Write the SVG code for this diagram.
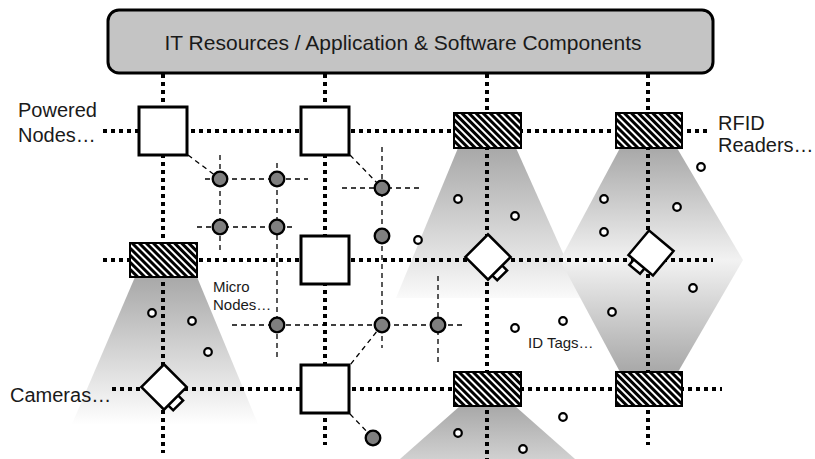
<svg xmlns="http://www.w3.org/2000/svg" width="815" height="459" viewBox="0 0 815 459">
<style>
.dot{fill:none;stroke:#000;stroke-width:4;stroke-dasharray:4 4}
.dash{fill:none;stroke:#000;stroke-width:1.3;stroke-dasharray:5 4}
.sq{fill:#fff;stroke:#000;stroke-width:3}
.rd{fill:url(#hatch);stroke:#000;stroke-width:2}
.cam{fill:#fff;stroke:#000;stroke-width:2.5}
.mn{fill:#7f7f7f;stroke:#000;stroke-width:2.3}
.tag{fill:#fff;stroke:#000;stroke-width:2.2}
.lbl{font-family:"Liberation Sans",Arial,sans-serif;fill:#1a1a1a}
</style>
<defs>
<pattern id="hatch" patternUnits="userSpaceOnUse" width="5" height="5" patternTransform="rotate(45)">
<rect width="5" height="5" fill="#000"/>
<rect width="5" height="2" fill="#fff"/>
</pattern>
<linearGradient id="gA" gradientUnits="userSpaceOnUse" x1="0" y1="148" x2="0" y2="298"><stop offset="0" stop-color="#a8a8a8"/><stop offset="1" stop-color="#fafafa"/></linearGradient>
<linearGradient id="gB" gradientUnits="userSpaceOnUse" x1="0" y1="148" x2="0" y2="260"><stop offset="0" stop-color="#a8a8a8"/><stop offset="1" stop-color="#f2f2f2"/></linearGradient>
<linearGradient id="gC" gradientUnits="userSpaceOnUse" x1="0" y1="372" x2="0" y2="260"><stop offset="0" stop-color="#a8a8a8"/><stop offset="1" stop-color="#f2f2f2"/></linearGradient>
<linearGradient id="gD" gradientUnits="userSpaceOnUse" x1="0" y1="277" x2="0" y2="425"><stop offset="0" stop-color="#a8a8a8"/><stop offset="1" stop-color="#ffffff"/></linearGradient>
<linearGradient id="gE" gradientUnits="userSpaceOnUse" x1="0" y1="406" x2="0" y2="520"><stop offset="0" stop-color="#a8a8a8"/><stop offset="1" stop-color="#ffffff"/></linearGradient>
</defs>
<rect width="815" height="459" fill="#fff"/>

<g id="beams">
<polygon points="458,148 516,148 583,298 396,298" fill="url(#gA)"/>
<polygon points="620,148 677,148 743,260 560,260" fill="url(#gB)"/>
<polygon points="620,372 678,372 743,260 560,260" fill="url(#gC)"/>
<polygon points="135,277 197,277 258,424 72,424" fill="url(#gD)"/>
<polygon points="460,406 515,406 575,459 400,459" fill="url(#gE)"/>
</g>

<g id="connectors">
<line class="dot" x1="163" y1="74" x2="163" y2="453"/>
<line class="dot" x1="325" y1="74" x2="325" y2="445"/>
<line class="dot" x1="487" y1="74" x2="487" y2="459"/>
<line class="dot" x1="648" y1="74" x2="648" y2="445"/>
<line class="dot" x1="103" y1="131" x2="710" y2="131"/>
<line class="dot" x1="103" y1="260" x2="713" y2="260"/>
<line class="dot" x1="112" y1="389" x2="722" y2="389"/>

<line class="dash" x1="188" y1="155" x2="220" y2="179"/>
<line class="dash" x1="205" y1="179" x2="308" y2="179"/>
<line class="dash" x1="197" y1="227" x2="292" y2="227"/>
<line class="dash" x1="220" y1="155" x2="220" y2="252"/>
<line class="dash" x1="277" y1="163" x2="277" y2="357"/>
<line class="dash" x1="350" y1="155" x2="382" y2="188"/>
<line class="dash" x1="342" y1="188" x2="423" y2="188"/>
<line class="dash" x1="382" y1="147" x2="382" y2="348"/>
<line class="dash" x1="232" y1="325" x2="463" y2="325"/>
<line class="dash" x1="438" y1="276" x2="438" y2="364"/>
<line class="dash" x1="382" y1="325" x2="350" y2="365"/>
<line class="dash" x1="350" y1="414" x2="373" y2="438"/>
</g>

<g id="micro-nodes">
<circle class="mn" cx="220" cy="179" r="7.3"/>
<circle class="mn" cx="277" cy="179" r="7.3"/>
<circle class="mn" cx="220" cy="227" r="7.3"/>
<circle class="mn" cx="277" cy="227" r="7.3"/>
<circle class="mn" cx="382" cy="188" r="7.3"/>
<circle class="mn" cx="382" cy="236" r="7.3"/>
<circle class="mn" cx="277" cy="325" r="7.3"/>
<circle class="mn" cx="382" cy="325" r="7.3"/>
<circle class="mn" cx="438" cy="325" r="7.3"/>
<circle class="mn" cx="373" cy="438" r="7.3"/>
</g>

<g id="id-tags">
<circle class="tag" cx="458" cy="199" r="3.8"/>
<circle class="tag" cx="515" cy="216" r="3.8"/>
<circle class="tag" cx="418" cy="240" r="3.8"/>
<circle class="tag" cx="701" cy="167" r="3.8"/>
<circle class="tag" cx="604" cy="199" r="3.8"/>
<circle class="tag" cx="677" cy="207" r="3.8"/>
<circle class="tag" cx="604" cy="232" r="3.8"/>
<circle class="tag" cx="693" cy="288" r="3.8"/>
<circle class="tag" cx="612" cy="312" r="3.8"/>
<circle class="tag" cx="515" cy="328" r="3.8"/>
<circle class="tag" cx="563" cy="321" r="3.8"/>
<circle class="tag" cx="563" cy="417" r="3.8"/>
<circle class="tag" cx="458" cy="433" r="3.8"/>
<circle class="tag" cx="523" cy="449" r="3.8"/>
<circle class="tag" cx="152" cy="313" r="3.8"/>
<circle class="tag" cx="192" cy="321" r="3.8"/>
<circle class="tag" cx="208" cy="352" r="3.8"/>
</g>

<g id="it-resources">
<rect x="108" y="10" width="605" height="63" rx="11" fill="#c4c4c4" stroke="#000" stroke-width="3"/>
<text class="lbl" x="403" y="50" font-size="21" text-anchor="middle">IT Resources / Application &amp; Software Components</text>
</g>

<g id="powered-node-1"><rect class="sq" x="139" y="107" width="48" height="48"/></g>
<g id="powered-node-2"><rect class="sq" x="301" y="107" width="48" height="48"/></g>
<g id="powered-node-3"><rect class="sq" x="301" y="236" width="48" height="48"/></g>
<g id="powered-node-4"><rect class="sq" x="301" y="365" width="48" height="48"/></g>

<g id="rfid-reader-1"><rect class="rd" x="454" y="113" width="67" height="35"/></g>
<g id="rfid-reader-2"><rect class="rd" x="616" y="113" width="66" height="35"/></g>
<g id="rfid-reader-3"><rect class="rd" x="130" y="243" width="67" height="34"/></g>
<g id="rfid-reader-4"><rect class="rd" x="454" y="372" width="67" height="34"/></g>
<g id="rfid-reader-5"><rect class="rd" x="616" y="372" width="66" height="34"/></g>

<g id="camera-1" transform="translate(164,387) rotate(45)">
<rect class="cam" x="15" y="-4" width="8" height="14"/>
<rect class="cam" x="-16" y="-16" width="32" height="32"/>
</g>
<g id="camera-2" transform="translate(488,257) rotate(45)">
<rect class="cam" x="15" y="-4" width="8" height="14"/>
<rect class="cam" x="-16" y="-16" width="32" height="32"/>
</g>
<g id="camera-3" transform="translate(651,253) rotate(40)">
<rect class="cam" x="-9" y="15" width="14" height="8"/>
<rect class="cam" x="-16" y="-16" width="32" height="32"/>
</g>

<g id="labels">
<text class="lbl" x="18" y="117" font-size="20">Powered</text>
<text class="lbl" x="18" y="142" font-size="20">Nodes…</text>
<text class="lbl" x="718" y="130" font-size="20">RFID</text>
<text class="lbl" x="718" y="152" font-size="20">Readers…</text>
<text class="lbl" x="10" y="402" font-size="20">Cameras…</text>
<text class="lbl" x="213" y="292" font-size="15">Micro</text>
<text class="lbl" x="213" y="310" font-size="15">Nodes…</text>
<text class="lbl" x="528" y="348" font-size="15">ID Tags…</text>
</g>
</svg>
